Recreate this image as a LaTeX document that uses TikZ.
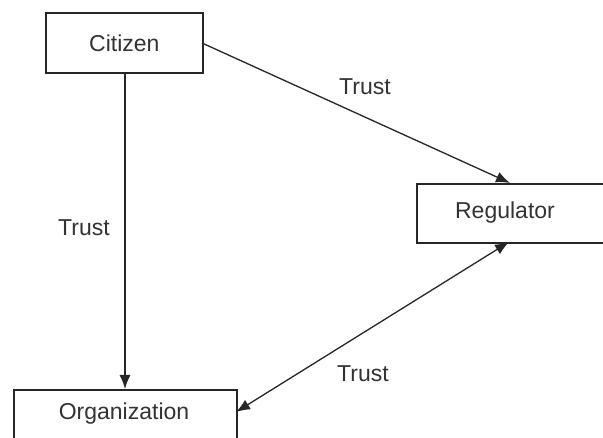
\documentclass[tikz,border=0pt]{standalone}
\usepackage{fontspec}
\setmainfont{Liberation Sans}
\usetikzlibrary{arrows.meta}
\begin{document}
\begin{tikzpicture}[x=1pt,y=-1pt,
  box/.style={draw=black!85, line width=1.7pt, fill=white},
  lbl/.style={font=\fontsize{23}{27}\selectfont, text=black!80, inner sep=0pt},
  conn/.style={draw=black!85, line width=1.3pt, -{Latex[length=14pt,width=11pt]}},
  conn2/.style={draw=black!85, line width=1.3pt, {Latex[length=14pt,width=11pt]}-{Latex[length=14pt,width=11pt]}}]
\clip (0,0) rectangle (603,438);
\useasboundingbox (0,0) rectangle (603,438);
\fill[white] (0,0) rectangle (603,438);
\node[box, minimum width=157pt, minimum height=60pt, anchor=north west] (cit) at (45,12) {};
\node[lbl] at (cit.center) {Citizen};
\node[box, minimum width=192pt, minimum height=59pt, anchor=north west] (reg) at (416,183) {};
\node[lbl] at (505,213) {Regulator};
\node[box, minimum width=223pt, minimum height=60pt, anchor=north west] (org) at (13,389) {};
\node[lbl] at (124,414) {Organization};
\coordinate (c1) at (125,72);
\coordinate (o1) at (125,389);
\coordinate (c2) at (202,43);
\coordinate (r1) at (510,183);
\coordinate (r2) at (509,242);
\coordinate (o2) at (236,412);
\draw[conn] (c1) -- (o1);
\draw[conn] (c2) -- (r1);
\draw[conn2] (o2) -- (r2);
\node[lbl] (t1) at (365,87) {Trust};
\node[lbl] (t2) at (84,228) {Trust};
\node[lbl] (t3) at (363,374) {Trust};
\end{tikzpicture}
\end{document}
